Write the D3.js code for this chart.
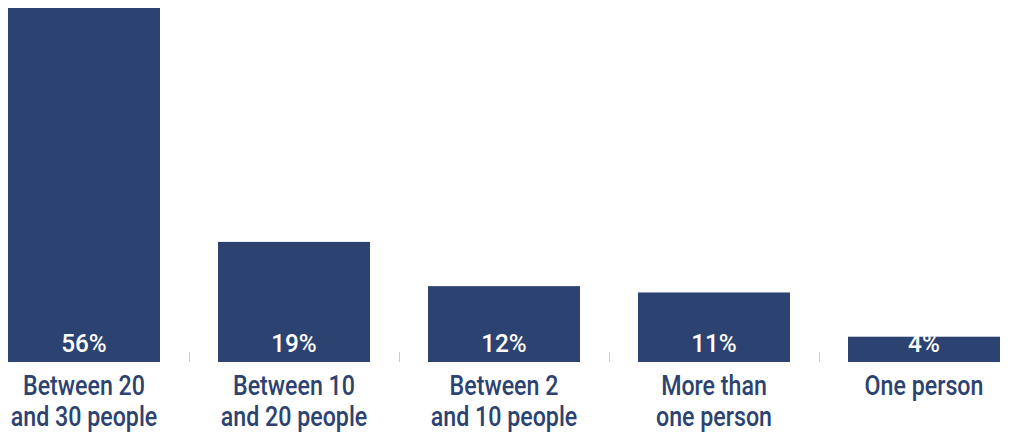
<!DOCTYPE html>
<html>
<head>
<meta charset="utf-8">
<script src="https://cdn.jsdelivr.net/npm/d3@7"></script>
<style>
  html, body { margin: 0; padding: 0; background: #ffffff; }
  svg { display: block; }
  text { font-family: Roboto, "Liberation Sans", sans-serif; font-weight: 500; }
</style>
</head>
<body>
<svg id="chart" width="1020" height="434"></svg>
<script>
// Group size categories (two-line labels) and their shares in percent
const categories = ["Between 20|and 30 people", "Between 10|and 20 people", "Between 2|and 10 people", "More than|one person", "One person"];
const shares = [56, 19, 12, 11, 4];
const valueLabels = ["56%", "19%", "12%", "11%", "4%"];

const W = 1020, H = 434;
const baseY = 362, topY = 8;
const navy = "#2c4271";
const squeeze = 0.86;      // horizontal compression for a condensed look
const valueSqueeze = 0.92;

const svg = d3.select("#chart");

const x = d3.scaleBand()
  .domain(categories)
  .range([-21, 1029])
  .paddingInner(58 / 210)
  .paddingOuter(29 / 210);

const y = d3.scaleLinear()
  .domain([0, d3.max(shares)])
  .range([baseY, topY]);

const cx = d => x(d) + x.bandwidth() / 2;

// Bars
svg.append("g")
  .selectAll("rect")
  .data(categories)
  .join("rect")
  .attr("x", d => x(d))
  .attr("width", x.bandwidth())
  .attr("y", (d, i) => y(shares[i]))
  .attr("height", (d, i) => baseY - y(shares[i]))
  .attr("fill", navy);

// Separator ticks between categories
const bounds = categories.slice(1).map(d => x(d) - (x.step() - x.bandwidth()) / 2);
svg.append("g")
  .selectAll("line")
  .data(bounds)
  .join("line")
  .attr("x1", d => d + 0.5)
  .attr("x2", d => d + 0.5)
  .attr("y1", 352)
  .attr("y2", baseY)
  .attr("stroke", "#c9c9dc")
  .attr("stroke-width", 1);

// Value labels inside bars
svg.append("g")
  .selectAll("text")
  .data(categories)
  .join("text")
  .attr("transform", d => `translate(${cx(d)},352) scale(${valueSqueeze},1)`)
  .attr("text-anchor", "middle")
  .attr("fill", "#ffffff")
  .attr("font-size", 26.5)
  .text((d, i) => valueLabels[i]);

// Category labels below the axis
const cat = svg.append("g")
  .selectAll("text")
  .data(categories)
  .join("text")
  .attr("transform", d => `translate(${cx(d)},395) scale(${squeeze},1)`)
  .attr("text-anchor", "middle")
  .attr("fill", navy)
  .attr("font-size", 27);

cat.selectAll("tspan")
  .data(d => d.split("|"))
  .join("tspan")
  .attr("x", 0)
  .attr("dy", (t, i) => i === 0 ? 0 : 31)
  .text(t => t);
</script>
</body>
</html>
